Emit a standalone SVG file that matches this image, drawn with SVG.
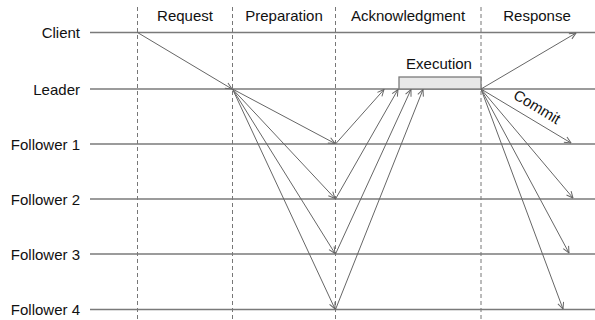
<svg xmlns="http://www.w3.org/2000/svg" width="595" height="320" viewBox="0 0 595 320">
<defs>
<marker id="ah" viewBox="0 0 8 8" refX="7.5" refY="4" markerWidth="8" markerHeight="8" markerUnits="userSpaceOnUse" orient="auto">
<path d="M1,1 L7.5,4 L1,7" fill="none" stroke="#666" stroke-width="1"/>
</marker>
<style>
.t{font-family:"Liberation Sans",Arial,sans-serif;font-size:15px;fill:#111}
.tl{stroke:#7a7a7a;stroke-width:1.3;fill:none}
.ph{stroke:#777;stroke-width:1;stroke-dasharray:4 3;fill:none}
.m{stroke:#666;stroke-width:1;fill:none;marker-end:url(#ah)}
</style>
</defs>
<rect width="595" height="320" fill="#fff"/>
<g id="phases">
<line class="ph" x1="137.5" y1="7" x2="137.5" y2="320"/>
<line class="ph" x1="232.5" y1="7" x2="232.5" y2="320"/>
<line class="ph" x1="335.5" y1="7" x2="335.5" y2="320"/>
<line class="ph" x1="481" y1="7" x2="481" y2="320"/>
<text class="t" x="185" y="21" text-anchor="middle">Request</text>
<text class="t" x="284" y="21" text-anchor="middle">Preparation</text>
<text class="t" x="408" y="21" text-anchor="middle">Acknowledgment</text>
<text class="t" x="537" y="21" text-anchor="middle">Response</text>
</g>
<g id="client"><line class="tl" x1="90" y1="32.5" x2="595" y2="32.5"/><text class="t" x="80" y="38" text-anchor="end">Client</text></g>
<g id="leader"><line class="tl" x1="90" y1="89" x2="595" y2="89"/><text class="t" x="80" y="94.5" text-anchor="end">Leader</text></g>
<g id="follower1"><line class="tl" x1="90" y1="144" x2="595" y2="144"/><text class="t" x="80" y="149.5" text-anchor="end">Follower 1</text></g>
<g id="follower2"><line class="tl" x1="90" y1="199" x2="595" y2="199"/><text class="t" x="80" y="204.5" text-anchor="end">Follower 2</text></g>
<g id="follower3"><line class="tl" x1="90" y1="254" x2="595" y2="254"/><text class="t" x="80" y="259.5" text-anchor="end">Follower 3</text></g>
<g id="follower4"><line class="tl" x1="90" y1="309.5" x2="595" y2="309.5"/><text class="t" x="80" y="315" text-anchor="end">Follower 4</text></g>
<g id="execution">
<rect x="399" y="77" width="82" height="12" fill="#e8e8e8" stroke="#7a7a7a" stroke-width="1.3"/>
<text class="t" x="439" y="69" text-anchor="middle">Execution</text>
</g>
<g id="connectors">
<line class="m" x1="137.5" y1="32.5" x2="232" y2="89"/>
<line class="m" x1="232.5" y1="89" x2="335" y2="143.5"/>
<line class="m" x1="232.5" y1="89" x2="335" y2="198.5"/>
<line class="m" x1="232.5" y1="89" x2="335" y2="253.5"/>
<line class="m" x1="232.5" y1="89" x2="335" y2="309"/>
<line class="m" x1="335.5" y1="144" x2="384" y2="89.5"/>
<line class="m" x1="335.5" y1="199" x2="398" y2="89.5"/>
<line class="m" x1="335.5" y1="254" x2="411" y2="89.5"/>
<line class="m" x1="335.5" y1="309.5" x2="423" y2="89.5"/>
<line class="m" x1="481" y1="89" x2="576" y2="33"/>
<line class="m" x1="481" y1="89" x2="571" y2="143"/>
<line class="m" x1="481" y1="89" x2="573" y2="198"/>
<line class="m" x1="481" y1="89" x2="569" y2="253"/>
<line class="m" x1="481" y1="89" x2="563" y2="309"/>
<text class="t" x="537" y="112" text-anchor="middle" transform="rotate(31 537 107)">Commit</text>
</g>
</svg>
